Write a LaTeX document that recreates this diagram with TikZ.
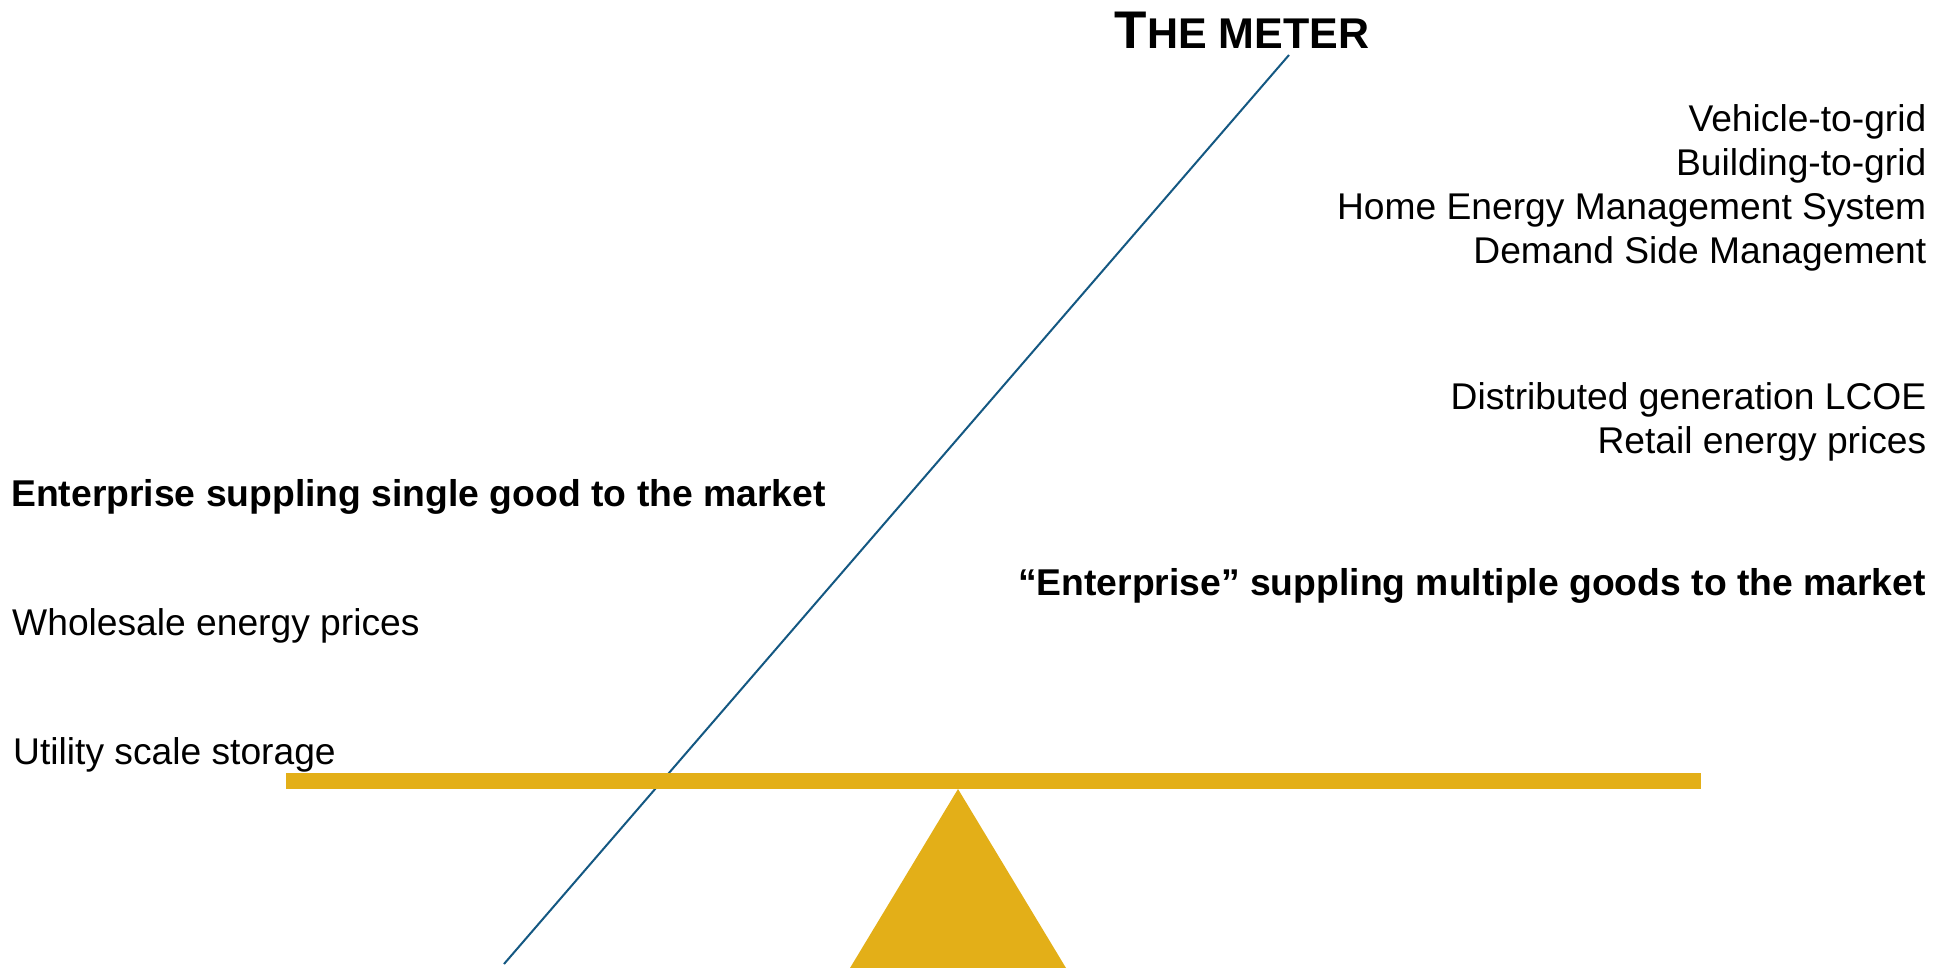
\documentclass[tikz,border=0pt]{standalone}
\usepackage{fontspec}
\setmainfont{Liberation Sans}
\definecolor{gold}{RGB}{227,175,24}
\definecolor{meterblue}{RGB}{20,88,130}
\begin{document}
\begin{tikzpicture}[x=1pt,y=-1pt,
  txt/.style={inner sep=0pt, font=\fontsize{37.2}{44}\selectfont},
  boldtxt/.style={inner sep=0pt, font=\fontsize{37.3}{44}\selectfont\bfseries},
  meterline/.style={draw=meterblue, line width=2pt},
  beam/.style={fill=gold, draw=none}]
\useasboundingbox (0,0) rectangle (1949,968);

% the meter line (drawn first, the beam lies over it)
\coordinate (mtop) at (1289,55);
\coordinate (mbot) at (504,964);
\draw[meterline] (mbot) -- (mtop);

% beam and fulcrum
\path[beam] (286,773) rectangle (1701,789);
\coordinate (apex) at (958,789);
\coordinate (bl) at (850,968);
\coordinate (br) at (1066,968);
\path[beam] (apex) -- (br) -- (bl) -- cycle;

% title
\node[anchor=base, inner sep=0pt] (title) at (1242,49)
  {\bfseries\fontsize{53}{60}\selectfont T\fontsize{43}{50}\selectfont HE METER};

% right-hand texts
\node[txt, anchor=base east] (v2g)  at (1926.5,132) {Vehicle-to-grid};
\node[txt, anchor=base east] (b2g)  at (1926.5,176) {Building-to-grid};
\node[txt, anchor=base east] (hems) at (1926.5,220) {Home Energy Management System};
\node[txt, anchor=base east] (dsm)  at (1926.5,264) {Demand Side Management};
\node[txt, anchor=base east] (dg)   at (1926.5,409) {Distributed generation LCOE};
\node[txt, anchor=base east] (rep)  at (1926.5,453) {Retail energy prices};
\node[boldtxt, anchor=base east] (multi) at (1926,595) {“Enterprise” suppling multiple goods to the market};

% left-hand texts
\node[boldtxt, anchor=base west] (single) at (11,506) {Enterprise suppling single good to the market};
\node[txt, anchor=base west] (wep) at (12,635) {Wholesale energy prices};
\node[txt, anchor=base west] (uss) at (13,764) {Utility scale storage};
\end{tikzpicture}
\end{document}
